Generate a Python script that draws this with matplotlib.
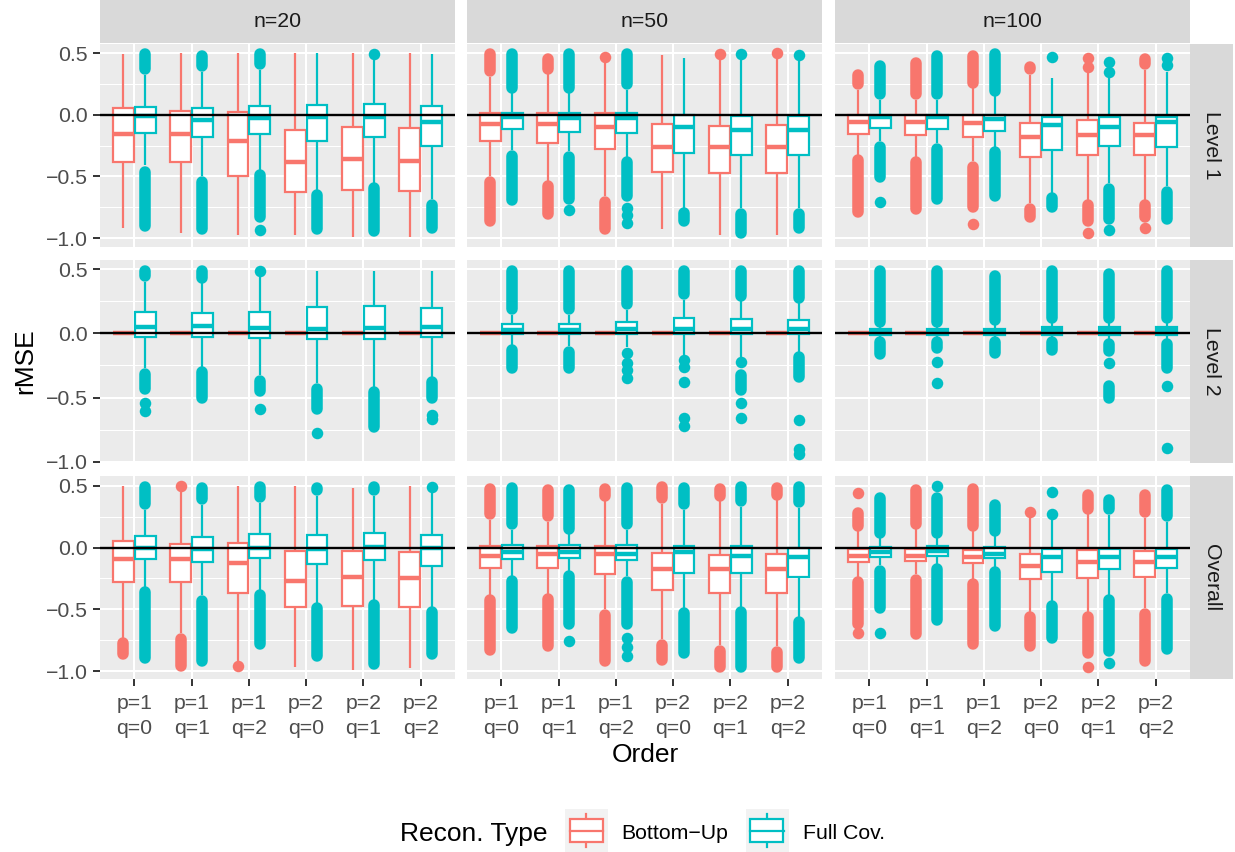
import matplotlib
matplotlib.use("Agg")
import matplotlib.pyplot as plt
from matplotlib.patches import Rectangle
from matplotlib.lines import Line2D

plt.rcParams["font.family"] = ["Liberation Sans", "DejaVu Sans"]

# ---------------------------------------------------------------- data
SIZES = ["n=20", "n=50", "n=100"]
LEVELS = ["Level 1", "Level 2", "Overall"]
ORDERS = ["p=1\nq=0", "p=1\nq=1", "p=1\nq=2", "p=2\nq=0", "p=2\nq=1", "p=2\nq=2"]
RECON_TYPES = ["Bottom\u2212Up", "Full Cov."]
Y_TICKS = [-1.0, -0.5, 0.0, 0.5]
Y_MINOR = [-0.75, -0.25, 0.25]

# box summaries per order: (lower whisker, q1, median, q3, upper whisker)
# outliers per order: tuples are dense runs (low, high), floats are single points

# Level 1
BU_L1_N20 = [(-0.914, -0.384, -0.157, 0.054, 0.495), (-0.960, -0.384, -0.157, 0.032, 0.500),
             (-0.973, -0.500, -0.216, 0.022, 0.500), (-0.973, -0.627, -0.384, -0.122, 0.500),
             (-0.990, -0.608, -0.357, -0.095, 0.500), (-0.990, -0.616, -0.378, -0.108, 0.500)]
OUT_BU_L1_N20 = [[], [], [], [], [], []]
FC_L1_N20 = [(-0.405, -0.149, -0.010, 0.062, 0.324), (-0.500, -0.176, -0.040, 0.054, 0.350),
             (-0.446, -0.154, -0.027, 0.073, 0.360), (-0.608, -0.216, -0.020, 0.078, 0.500),
             (-0.554, -0.176, -0.020, 0.089, 0.446), (-0.684, -0.249, -0.054, 0.068, 0.495)]
OUT_FC_L1_N20 = [[(0.373, 0.490), (-0.905, -0.460)], [(0.400, 0.480), (-0.927, -0.546)],
                 [(0.410, 0.495), (-0.832, -0.486), -0.932], [(-0.927, -0.654)],
                 [0.495, (-0.940, -0.595)], [(-0.914, -0.730)]]

BU_L1_N50 = [(-0.500, -0.211, -0.073, 0.014, 0.310), (-0.540, -0.230, -0.076, 0.014, 0.330),
             (-0.660, -0.276, -0.100, 0.019, 0.430), (-0.927, -0.460, -0.257, -0.073, 0.486),
             (-0.973, -0.473, -0.257, -0.089, 0.446), (-0.973, -0.468, -0.257, -0.081, 0.450)]
OUT_BU_L1_N50 = [[(0.357, 0.495), (-0.860, -0.546)], [(0.370, 0.454), (-0.805, -0.580)],
                 [0.473, (-0.927, -0.708)], [], [0.495], [0.500]]
FC_L1_N50 = [(-0.284, -0.116, -0.015, 0.019, 0.176), (-0.297, -0.135, -0.027, 0.014, 0.176),
             (-0.338, -0.149, -0.027, 0.019, 0.200), (-0.757, -0.311, -0.100, 0.000, 0.460),
             (-0.757, -0.324, -0.120, -0.008, 0.446), (-0.757, -0.324, -0.120, -0.008, 0.440)]
OUT_FC_L1_N50 = [[(0.222, 0.495), (-0.692, -0.330)], [(0.222, 0.495), (-0.684, -0.343), -0.770],
                 [(0.249, 0.495), (-0.657, -0.384), -0.757, -0.810, -0.878],
                 [(-0.860, -0.797)], [0.495, (-0.960, -0.803)], [0.486, (-0.914, -0.803)]]

BU_L1_N100 = [(-0.324, -0.154, -0.054, 0.000, 0.200), (-0.338, -0.162, -0.054, 0.000, 0.120),
              (-0.378, -0.176, -0.068, 0.000, 0.220), (-0.716, -0.338, -0.176, -0.068, 0.324),
              (-0.689, -0.324, -0.162, -0.040, 0.338), (-0.689, -0.324, -0.162, -0.062, 0.365)]
OUT_BU_L1_N100 = [[(0.249, 0.324), (-0.790, -0.370)], [(0.168, 0.420), (-0.765, -0.384)],
                  [(0.262, 0.476), (-0.750, -0.424), -0.886], [(0.370, 0.386), (-0.832, -0.762)],
                  [0.460, 0.392, (-0.860, -0.735), -0.959], [(0.410, 0.454), (-0.832, -0.735), -0.919]]
FC_L1_N100 = [(-0.216, -0.108, -0.015, 0.000, 0.120), (-0.230, -0.116, -0.015, 0.000, 0.120),
              (-0.257, -0.130, -0.035, 0.000, 0.150), (-0.635, -0.289, -0.084, -0.019, 0.297),
              (-0.554, -0.249, -0.100, -0.014, 0.297), (-0.581, -0.257, -0.054, -0.014, 0.351)]
OUT_FC_L1_N100 = [[(0.168, 0.400), (-0.508, -0.262), -0.708], [(0.168, 0.480), (-0.684, -0.276)],
                  [(0.195, 0.495), (-0.657, -0.303)], [0.473, (-0.751, -0.676)],
                  [0.432, 0.350, (-0.846, -0.600), -0.932], [0.460, 0.405, (-0.846, -0.622)]]

# Level 2
BU_L2_N20 = [(0.0, 0.0, 0.0, 0.0, 0.0), (0.0, 0.0, 0.0, 0.0, 0.0), (0.0, 0.0, 0.0, 0.0, 0.0),
             (0.0, 0.0, 0.0, 0.0, 0.0), (0.0, 0.0, 0.0, 0.0, 0.0), (0.0, 0.0, 0.0, 0.0, 0.0)]
OUT_BU_L2_N20 = [[], [], [], [], [], []]
FC_L2_N20 = [(-0.270, -0.031, 0.047, 0.169, 0.400), (-0.260, -0.031, 0.057, 0.156, 0.390),
             (-0.325, -0.039, 0.039, 0.169, 0.440), (-0.390, -0.047, 0.031, 0.208, 0.488),
             (-0.416, -0.047, 0.039, 0.213, 0.488), (-0.338, -0.031, 0.047, 0.195, 0.488)]
OUT_FC_L2_N20 = [[(0.447, 0.488), (-0.436, -0.317), -0.545, -0.603], [(0.434, 0.488), (-0.501, -0.304)],
                 [0.488, (-0.449, -0.369), -0.592], [(-0.592, -0.434), -0.779],
                 [(-0.727, -0.460)], [(-0.501, -0.377), -0.636, -0.670]]

BU_L2_N50 = [(0.0, 0.0, 0.0, 0.0, 0.0), (0.0, 0.0, 0.0, 0.0, 0.0), (0.0, 0.0, 0.0, 0.0, 0.0),
             (0.0, 0.0, 0.0, 0.0, 0.0), (0.0, 0.0, 0.0, 0.0, 0.0), (0.0, 0.0, 0.0, 0.0, 0.0)]
OUT_BU_L2_N50 = [[], [], [], [], [], []]
FC_L2_N50 = [(-0.091, -0.008, 0.026, 0.073, 0.143), (-0.100, -0.008, 0.026, 0.073, 0.143),
             (-0.109, -0.008, 0.030, 0.091, 0.180), (-0.169, -0.008, 0.031, 0.117, 0.260),
             (-0.182, -0.008, 0.031, 0.112, 0.250), (-0.156, -0.008, 0.031, 0.104, 0.240)]
OUT_FC_L2_N50 = [[(0.187, 0.488), (-0.273, -0.127)], [(0.187, 0.488), (-0.268, -0.143)],
                 [(0.226, 0.488), -0.156, -0.234, -0.286, -0.351],
                 [(0.304, 0.488), -0.208, -0.265, -0.377, -0.657, -0.722],
                 [(0.291, 0.488), -0.221, (-0.442, -0.325), -0.545, -0.662],
                 [(0.278, 0.488), (-0.338, -0.187), -0.675, -0.904, -0.940]]

BU_L2_N100 = [(0.0, 0.0, 0.0, 0.0, 0.0), (0.0, 0.0, 0.0, 0.0, 0.0), (0.0, 0.0, 0.0, 0.0, 0.0),
              (0.0, 0.0, 0.0, 0.0, 0.0), (0.0, 0.0, 0.0, 0.0, 0.0), (0.0, 0.0, 0.0, 0.0, 0.0)]
OUT_BU_L2_N100 = [[], [], [], [], [], []]
FC_L2_N100 = [(-0.035, -0.010, 0.020, 0.034, 0.060), (-0.035, -0.010, 0.020, 0.034, 0.060),
              (-0.035, -0.010, 0.020, 0.036, 0.065), (-0.040, -0.010, 0.026, 0.047, 0.080),
              (-0.045, -0.010, 0.026, 0.047, 0.080), (-0.045, -0.010, 0.026, 0.047, 0.080)]
OUT_FC_L2_N100 = [[(0.091, 0.488), (-0.164, -0.065)], [(0.091, 0.488), (-0.117, -0.065), -0.221, -0.384],
                  [(0.104, 0.444), (-0.151, -0.070)], [(0.117, 0.488), (-0.130, -0.065)],
                  [(0.122, 0.462), (-0.138, -0.083), -0.229, (-0.506, -0.410)],
                  [(0.122, 0.488), (-0.273, -0.083), -0.410, -0.896]]

# Overall
BU_OV_N20 = [(-0.734, -0.275, -0.094, 0.054, 0.494), (-0.694, -0.275, -0.094, 0.030, 0.453),
             (-0.923, -0.364, -0.127, 0.040, 0.494), (-0.969, -0.483, -0.270, -0.032, 0.494),
             (-0.990, -0.472, -0.240, -0.027, 0.480), (-0.977, -0.478, -0.248, -0.040, 0.494)]
OUT_BU_OV_N20 = [[(-0.864, -0.775)], [0.499, (-0.958, -0.740)], [-0.958], [], [], []]
FC_OV_N20 = [(-0.316, -0.094, -0.005, 0.089, 0.305), (-0.383, -0.119, -0.011, 0.081, 0.345),
             (-0.343, -0.086, -0.005, 0.111, 0.360), (-0.451, -0.135, -0.013, 0.103, 0.420),
             (-0.424, -0.105, 0.003, 0.121, 0.420), (-0.478, -0.148, -0.005, 0.103, 0.445)]
OUT_FC_OV_N20 = [[(0.351, 0.489), (-0.896, -0.362)], [(0.391, 0.480), (-0.918, -0.429)],
                 [(0.405, 0.489), (-0.783, -0.383)], [(0.462, 0.480), (-0.877, -0.491)],
                 [(0.462, 0.489), (-0.942, -0.464)], [0.489, (-0.864, -0.518)]]

BU_OV_N50 = [(-0.383, -0.167, -0.067, 0.013, 0.224), (-0.375, -0.167, -0.050, 0.013, 0.210),
             (-0.499, -0.213, -0.051, 0.013, 0.372), (-0.742, -0.343, -0.173, -0.046, 0.354),
             (-0.788, -0.364, -0.173, -0.059, 0.372), (-0.796, -0.370, -0.175, -0.051, 0.380)]
OUT_BU_OV_N50 = [[(0.270, 0.475), (-0.831, -0.421)], [(0.256, 0.462), (-0.796, -0.416)],
                 [(0.418, 0.475), (-0.918, -0.545)], [(0.400, 0.489), (-0.910, -0.788)],
                 [(0.418, 0.475), (-0.966, -0.834)], [(0.426, 0.480), (-0.966, -0.842)]]
FC_OV_N50 = [(-0.229, -0.094, -0.038, 0.022, 0.140), (-0.186, -0.086, -0.040, 0.022, 0.110),
             (-0.229, -0.100, -0.051, 0.022, 0.140), (-0.486, -0.208, -0.040, 0.013, 0.300),
             (-0.478, -0.208, -0.070, 0.013, 0.330), (-0.559, -0.240, -0.078, -0.005, 0.320)]
OUT_FC_OV_N50 = [[(0.189, 0.480), (-0.648, -0.267)], [(0.148, 0.462), (-0.621, -0.227), -0.756],
                 [(0.189, 0.480), (-0.621, -0.275), -0.734, -0.802, -0.877],
                 [(0.351, 0.480), (-0.850, -0.532)], [(0.378, 0.489), (-0.966, -0.518)],
                 [(0.364, 0.489), (-0.891, -0.600)]]

BU_OV_N100 = [(-0.240, -0.119, -0.067, -0.013, 0.130), (-0.213, -0.108, -0.067, -0.013, 0.150),
              (-0.256, -0.122, -0.078, -0.019, 0.140), (-0.518, -0.256, -0.150, -0.051, 0.238),
              (-0.518, -0.248, -0.120, -0.024, 0.270), (-0.491, -0.235, -0.120, -0.032, 0.240)]
OUT_BU_OV_N100 = [[0.440, (0.175, 0.281), (-0.621, -0.281), -0.688], [(0.189, 0.462), (-0.696, -0.259)],
                  [(0.175, 0.470), (-0.777, -0.294)], [0.291, (-0.796, -0.564)],
                  [(0.310, 0.421), (-0.850, -0.564), -0.964], [(0.283, 0.421), (-0.918, -0.537)]]
FC_OV_N100 = [(-0.140, -0.078, -0.040, 0.008, 0.080), (-0.132, -0.067, -0.032, 0.013, 0.080),
              (-0.154, -0.086, -0.051, 0.003, 0.090), (-0.437, -0.202, -0.075, -0.013, 0.224),
              (-0.383, -0.175, -0.080, -0.013, 0.260), (-0.370, -0.167, -0.080, -0.013, 0.210)]
OUT_FC_OV_N100 = [[(0.121, 0.400), (-0.491, -0.186), -0.688], [0.499, (0.121, 0.400), (-0.588, -0.173)],
                  [(0.135, 0.345), (-0.634, -0.200)], [0.445, 0.273, (-0.729, -0.475)],
                  [(0.310, 0.381), (-0.837, -0.421), -0.937], [(0.256, 0.462), (-0.823, -0.416)]]

PANELS = [
    [(BU_L1_N20, OUT_BU_L1_N20, FC_L1_N20, OUT_FC_L1_N20),
     (BU_L1_N50, OUT_BU_L1_N50, FC_L1_N50, OUT_FC_L1_N50),
     (BU_L1_N100, OUT_BU_L1_N100, FC_L1_N100, OUT_FC_L1_N100)],
    [(BU_L2_N20, OUT_BU_L2_N20, FC_L2_N20, OUT_FC_L2_N20),
     (BU_L2_N50, OUT_BU_L2_N50, FC_L2_N50, OUT_FC_L2_N50),
     (BU_L2_N100, OUT_BU_L2_N100, FC_L2_N100, OUT_FC_L2_N100)],
    [(BU_OV_N20, OUT_BU_OV_N20, FC_OV_N20, OUT_FC_OV_N20),
     (BU_OV_N50, OUT_BU_OV_N50, FC_OV_N50, OUT_FC_OV_N50),
     (BU_OV_N100, OUT_BU_OV_N100, FC_OV_N100, OUT_FC_OV_N100)],
]

# ---------------------------------------------------------------- style
COLORS = ["#F8766D", "#00BFC4"]
PANEL_BG = "#EBEBEB"
STRIP_BG = "#D9D9D9"
TICK_TXT = "#4D4D4D"
SMALL = 15.3
BASE = 19.0
BOX_LW = 1.6
MED_LW = 3.2

W, H = 1235, 852
fig = plt.figure(figsize=(W / 100, H / 100), dpi=100)
fig.patch.set_facecolor("white")


def fx(x):
    return x / W


def fy(y):
    return 1 - y / H


COL_X = [(100, 455), (467, 822), (835, 1190)]
ROW_Y = [(44, 247), (260, 463), (476, 679)]
ROW_LIMS = [(-1.072, 0.575), (-1.010, 0.571), (-1.063, 0.578)]
OFFSET = 0.19
BOX_W = 0.36
PT_SIZE = 8.3

for r in range(3):
    for c in range(3):
        x0, x1 = COL_X[c]
        y0, y1 = ROW_Y[r]
        ax = fig.add_axes([fx(x0), fy(y1), (x1 - x0) / W, (y1 - y0) / H])
        ax.set_facecolor(PANEL_BG)
        for s in ax.spines.values():
            s.set_visible(False)
        ax.set_xlim(0.4, 6.6)
        ax.set_ylim(*ROW_LIMS[r])
        ax.set_axisbelow(True)
        ax.set_xticks(range(1, 7))
        ax.set_yticks(Y_TICKS)
        ax.set_yticks(Y_MINOR, minor=True)
        ax.grid(which="major", color="white", lw=1.5)
        ax.grid(which="minor", axis="y", color="white", lw=0.75)
        ax.tick_params(which="minor", length=0)

        bu, out_bu, fc, out_fc = PANELS[r][c]
        for k, (stats, outs) in enumerate([(bu, out_bu), (fc, out_fc)]):
            color = COLORS[k]
            off = -OFFSET if k == 0 else OFFSET
            pos = [i + 1 + off for i in range(len(stats))]
            bstats = []
            for s, o in zip(stats, outs):
                bstats.append(dict(whislo=s[0], q1=s[1], med=s[2], q3=s[3], whishi=s[4],
                                   fliers=[v for v in o if not isinstance(v, tuple)]))
            for p, o in zip(pos, outs):
                for v in o:
                    if isinstance(v, tuple):
                        ax.plot([p, p], [v[0], v[1]], color=color, lw=PT_SIZE,
                                solid_capstyle="round", zorder=2)
            ax.bxp(bstats, positions=pos, widths=BOX_W, showcaps=False, patch_artist=True,
                   manage_ticks=False, zorder=3,
                   boxprops=dict(facecolor="white", edgecolor=color, lw=BOX_LW),
                   whiskerprops=dict(color=color, lw=BOX_LW, solid_capstyle="butt"),
                   medianprops=dict(color=color, lw=MED_LW, solid_capstyle="butt"),
                   flierprops=dict(marker="o", markerfacecolor=color, markeredgecolor=color,
                                   markeredgewidth=0, markersize=PT_SIZE, linestyle="none"))
        ax.axhline(0, color="black", lw=1.7, zorder=4)

        if c == 0:
            ax.set_yticklabels([f"{v:.1f}".replace("-", "\u2212") for v in Y_TICKS],
                               color=TICK_TXT, fontsize=SMALL)
            ax.tick_params(axis="y", which="major", length=5.0, width=1.4,
                           color="#333333", pad=4.0)
        else:
            ax.tick_params(axis="y", which="major", length=0, labelleft=False)
        if r == 2:
            ax.set_xticklabels(ORDERS, color=TICK_TXT, fontsize=SMALL, linespacing=1.42)
            ax.tick_params(axis="x", length=5.0, width=1.4, color="#333333", pad=5.5)
        else:
            ax.tick_params(axis="x", length=0, labelbottom=False)

# facet strips
for c in range(3):
    x0, x1 = COL_X[c]
    fig.add_artist(Rectangle((fx(x0), fy(43)), (x1 - x0) / W, 43 / H,
                             transform=fig.transFigure, facecolor=STRIP_BG, edgecolor="none"))
    fig.text(fx((x0 + x1) / 2), fy(21.5), SIZES[c], ha="center", va="center",
             fontsize=SMALL, color="#1A1A1A")
for r in range(3):
    y0, y1 = ROW_Y[r]
    fig.add_artist(Rectangle((fx(1190), fy(y1)), 43 / W, (y1 - y0) / H,
                             transform=fig.transFigure, facecolor=STRIP_BG, edgecolor="none"))
    fig.text(fx(1211.5), fy((y0 + y1) / 2), LEVELS[r], ha="center", va="center",
             rotation=-90, fontsize=SMALL, color="#1A1A1A")

# axis titles
fig.text(fx(25), fy((44 + 679) / 2), "rMSE", rotation=90, ha="center", va="center",
         fontsize=BASE, color="black")
fig.text(fx(645), fy(761.5), "Order", ha="center", va="baseline", fontsize=BASE, color="black")

# legend
fig.text(fx(400), fy(840.5), "Recon. Type", ha="left", va="baseline", fontsize=BASE, color="black")
KEY_X = [565, 746]
LABEL_X = [621, 803]
for k in range(2):
    kx = KEY_X[k]
    color = COLORS[k]
    fig.add_artist(Rectangle((fx(kx), fy(852)), 43 / W, 43 / H, transform=fig.transFigure,
                             facecolor="#F2F2F2", edgecolor="none", zorder=1))
    cx = kx + 21
    fig.add_artist(Line2D([fx(cx), fx(cx)], [fy(846.5), fy(814)], transform=fig.transFigure,
                          color=color, lw=BOX_LW, zorder=2))
    fig.add_artist(Rectangle((fx(cx - 16.5), fy(841.7)), 33 / W, 22.4 / H, transform=fig.transFigure,
                             facecolor="white", edgecolor=color, lw=BOX_LW, zorder=3))
    fig.add_artist(Line2D([fx(cx - 16.5), fx(cx + 16.5)], [fy(830.7), fy(830.7)],
                          transform=fig.transFigure, color=color, lw=BOX_LW, zorder=4))
    fig.text(fx(LABEL_X[k]), fy(838.7), RECON_TYPES[k], ha="left", va="baseline",
             fontsize=SMALL, color="black")

fig.savefig("out.png", dpi=100, facecolor="white")
